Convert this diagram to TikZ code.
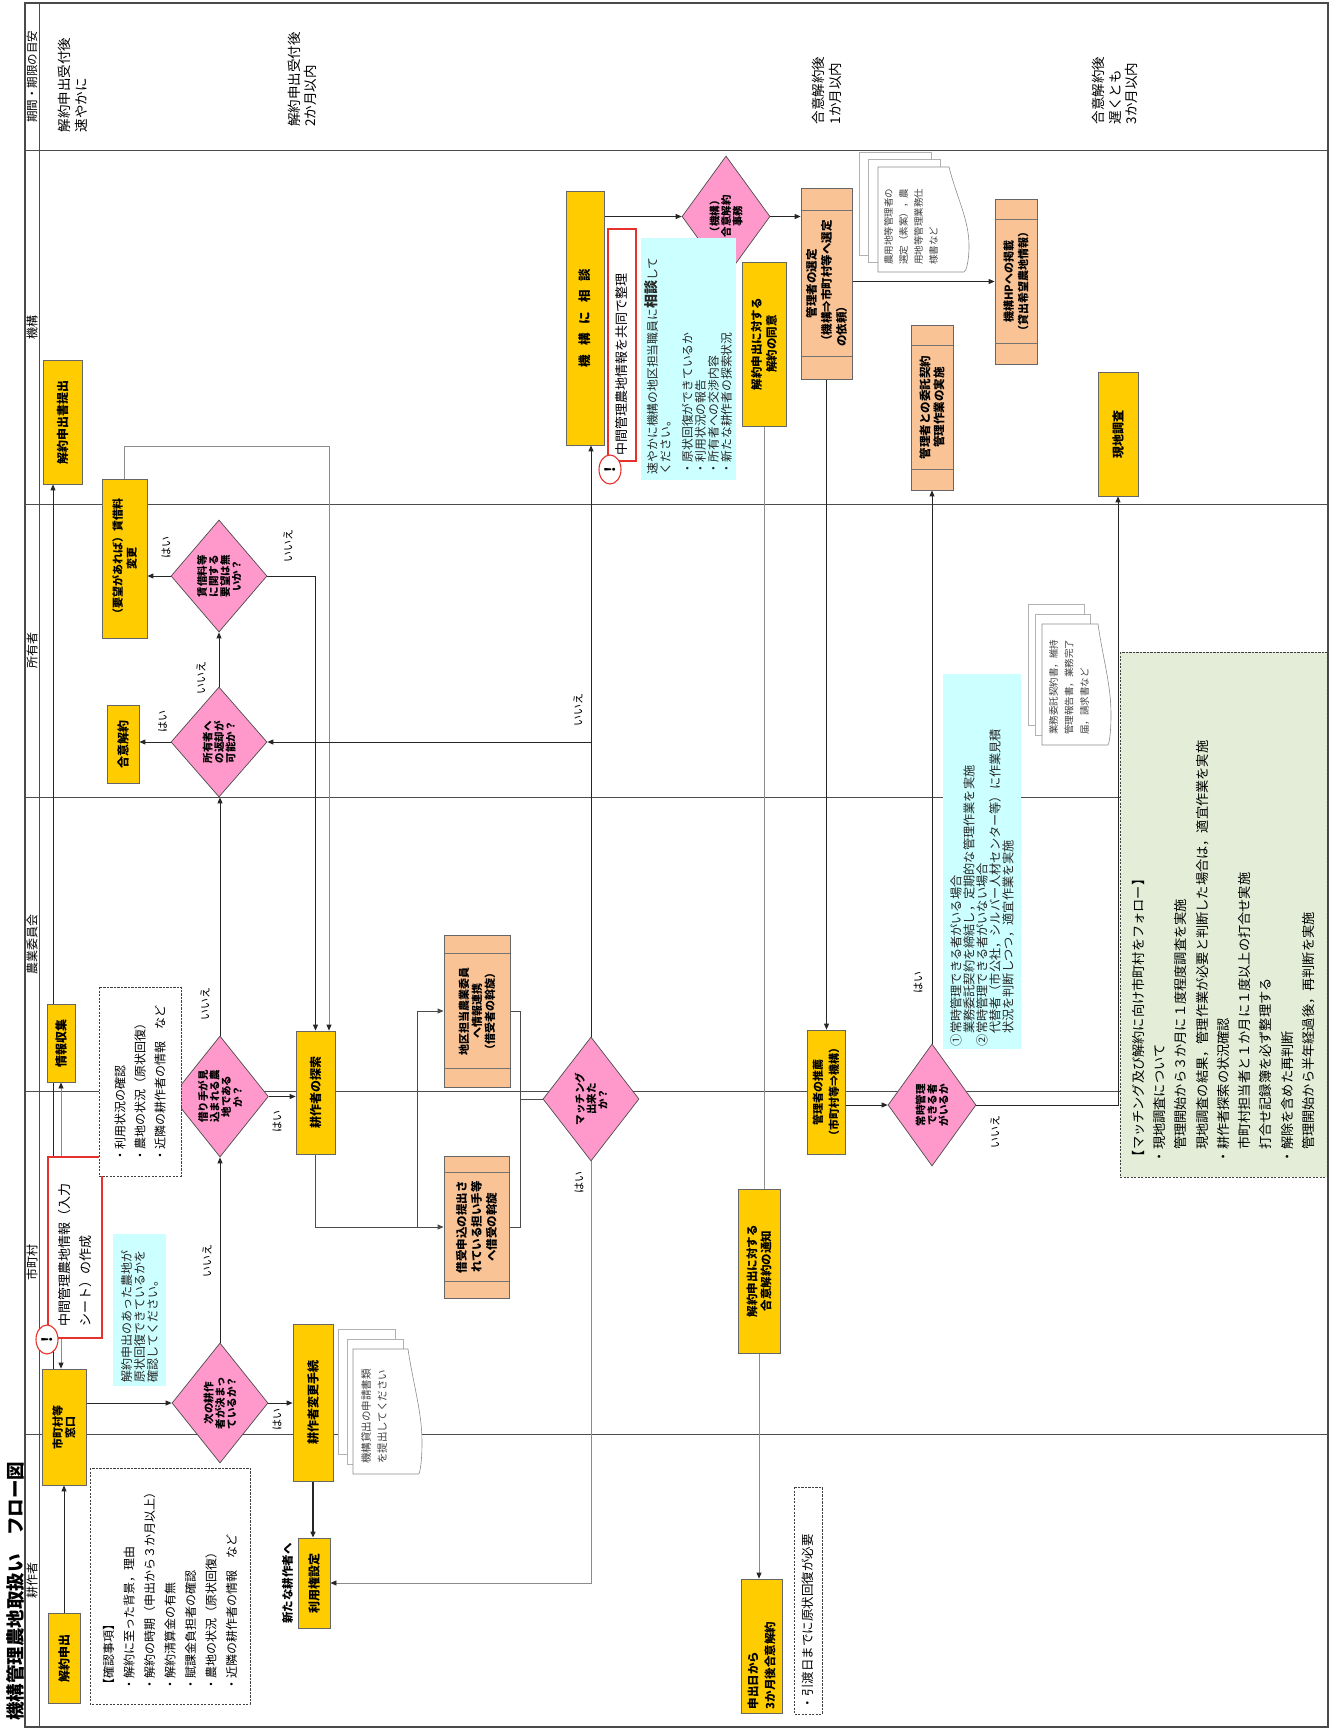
\documentclass[tikz,border=0pt]{standalone}
\usepackage{fontspec}
\setmainfont{Noto Sans CJK JP}
\usetikzlibrary{shapes.geometric,arrows.meta,calc}

\definecolor{yfill}{HTML}{FFCC00}
\definecolor{pfill}{HTML}{F9C396}
\definecolor{dfill}{HTML}{FF99CC}
\definecolor{cfill}{HTML}{CCFFFF}
\definecolor{gfill}{HTML}{E3EDD8}
\definecolor{redl}{HTML}{E5322D}
\definecolor{framec}{HTML}{4A4A4A}

\newcommand\fsz[2]{\fontsize{#1}{#2}\selectfont}
% the two inner rules of a sideways "predefined process" box
\newcommand\pplines[2]{%
  \draw[innerrule] ([yshift=-#2pt]#1.north east) -- ([yshift=-#2pt]#1.south east)
                   ([yshift=#2pt]#1.north west) -- ([yshift=#2pt]#1.south west);}
% a sheet behind a document stack, and the front sheet with its wavy edge
\newcommand\docsheet[4]{\draw[sheetback] (#1,#2) rectangle (#3,#4);}
\newcommand\docfront[5]{%
  \draw[sheetline] (#1,#2) -- (#3,#2)
    .. controls ({#3+0.4*#5},{#2+0.3*(#4-#2)}) and ({#3+#5},{#2+0.5*(#4-#2)}) .. ({#3+#5},{#2+0.75*(#4-#2)})
    .. controls ({#3+#5},{#2+0.9*(#4-#2)}) and ({#3+0.85*#5},{#4}) .. ({#3+0.75*#5},{#4})
    -- (#1,#4) -- cycle;}

\pgfdeclarelayer{bg}
\pgfsetlayers{bg,main}

\tikzset{
  sz/.style 2 args={minimum height=#1pt, minimum width=#2pt},
  ybox/.style={draw=black!60, line width=0.8pt, fill=yfill, rotate=90, inner sep=0pt,
               align=center, font=\bfseries\fsz{12}{14}},
  pbox/.style={ybox, fill=pfill},
  dec/.style={diamond, draw=black!70, line width=0.7pt, fill=dfill, rotate=90,
              inner sep=0pt, align=center, font=\bfseries\fsz{10.5}{11.5}},
  redbox/.style={draw=redl, line width=1.1pt, fill=white, rotate=90, inner sep=0pt, align=left},
  alert/.style={ellipse, draw=redl, line width=1.1pt, fill=white, rotate=90, inner sep=0pt,
                minimum width=29pt, minimum height=22pt, font=\bfseries\fsz{14}{14}},
  cbox/.style={fill=cfill, rotate=90, inner sep=0pt, align=left, text=black!85},
  dashbox/.style={draw=black!75, line width=0.7pt, dash pattern=on 2.2pt off 1.3pt, fill=white,
                  rotate=90, inner sep=0pt, align=left},
  gbox/.style={dashbox, fill=gfill},
  per/.style={rotate=90, inner sep=0pt, align=left, font=\fsz{13.5}{16.5}},
  lanelab/.style={rotate=90, inner sep=0pt, font=\fsz{12}{14}},
  lab/.style={rotate=90, inner sep=0pt, font=\fsz{11}{12}},
  doctext/.style={rotate=90, inner sep=0pt, align=left, anchor=north west, text=black!75},
  innerrule/.style={draw=black!55, line width=0.7pt},
  sheetback/.style={draw=black!30, line width=0.6pt, fill=white},
  sheetline/.style={draw=black!45, line width=0.6pt, fill=white},
  conn/.style={draw=black!85, line width=0.9pt},
  arr/.style={conn, -{Triangle[length=6pt,width=5pt]}},
  soft/.style={draw=black!45, line width=0.8pt},
  softarr/.style={soft, -{Triangle[length=6pt,width=5pt,color=black!85]}},
  lanerule/.style={draw=black!70, line width=1pt},
}

\begin{document}
\begin{tikzpicture}[x=1pt,y=-1pt]
\useasboundingbox (0,0) rectangle (1337,1728);

% ---------- title and lane names ----------
\node[rotate=90, inner sep=0pt, font=\bfseries\fsz{18.5}{20}] (title) at (15,1591) {機構管理農地取扱い　フロー図};
\node[lanelab, font=\fsz{11.5}{14}] (lanePeriod) at (32,77) {期間・期限の目安};
\node[lanelab] (laneKiko)   at (32,327)  {機構};
\node[lanelab] (laneOwner)  at (32,650)  {所有者};
\node[lanelab] (laneIinkai) at (32,944)  {農業委員会};
\node[lanelab] (laneCity)   at (32,1262) {市町村};
\node[lanelab] (laneFarmer) at (32,1580) {耕作者};

% ---------- time limits ----------
\node[per] (per1) at (73,85)      {解約申出受付後\\速やかに};
\node[per] (per2) at (302.5,79.5) {解約申出受付後\\2か月以内};
\node[per] (per3) at (827,90.5)   {合意解約後\\1か月以内};
\node[per] (per4) at (1115,90.5)  {合意解約後\\遅くとも\\3か月以内};

% ---------- process boxes ----------
\node[ybox, sz={32}{90}]  (kaiyaku)   at (64,1658)    {解約申出};
\node[ybox, sz={44}{116}, font=\bfseries\fsz{11}{12.5}] (madoguchi) at (64,1427) {市町村等\\窓口};
\node[ybox, sz={28}{78}]  (joho)      at (61,1043)    {情報収集};
\node[ybox, sz={39}{124}] (teishutsu) at (62.5,422)   {解約申出書提出};
\node[ybox, sz={45}{159}, font=\bfseries\fsz{11}{14}] (chinryo) at (124.5,558.5) {（要望があれば）賃借料\\変更};
\node[ybox, sz={32}{78}]  (goi)       at (123,744)    {合意解約};
\node[ybox, sz={39}{123}] (tansaku)   at (315.5,1092.5) {耕作者の探索};
\node[ybox, sz={40}{157}] (henko)     at (313,1402.5) {耕作者変更手続};
\node[ybox, sz={32}{90}]  (riyo)      at (314,1583)   {利用権設定};
\node[ybox, sz={38}{254}, font=\bfseries\fsz{12.5}{14}] (sodan) at (585,318)
  {機\hspace{9pt}構\hspace{9pt}に\hspace{9pt}相\hspace{9pt}談};
\node[ybox, sz={44}{164}, font=\bfseries\fsz{11.5}{15}] (doi)    at (764,344)  {解約申出に対する\\解約の同意};
\node[ybox, sz={42}{164}, font=\bfseries\fsz{11.5}{14}] (tsuchi) at (759,1271) {解約申出に対する\\合意解約の通知};
\node[ybox, sz={41}{134}, align=left, text width=126pt, font=\bfseries\fsz{11.5}{17}] (sanka) at (761.5,1646)
  {申出日から\\3か月後合意解約};
\node[ybox, sz={38}{124}, font=\bfseries\fsz{11}{16}] (suisen) at (826,1092) {管理者の推薦\\（市町村等⇒機構）};
\node[ybox, sz={40}{124}] (genchi) at (1118,434) {現地調査};

\node[pbox, sz={51}{191}, font=\bfseries\fsz{11.5}{15}] (sentei) at (826.5,283.5)
  {管理者の選定\\（機構⇒市町村等へ選定\\の依頼）\phantom{市町村等へ選定}};
\node[pbox, sz={42}{165}, font=\bfseries\fsz{11}{14.5}] (hp)     at (1016,281.5) {機構HPへの掲載\\（貸出希望農地情報）};
\node[pbox, sz={42}{165}, font=\bfseries\fsz{11.5}{14}] (itaku)  at (932,407.5)  {管理者との委託契約\\管理作業の実施};
\node[pbox, sz={66}{152}, font=\bfseries\fsz{11}{13}]   (chiku)  at (477,1011)   {地区担当農業委員\\へ情報連携\\（借受者の斡旋）};
\node[pbox, sz={65}{142}, font=\bfseries\fsz{11.5}{15}] (kariuke) at (476.5,1227) {借受申込の提出さ\\れている担い手等\\へ借受の斡旋};
\pplines{sentei}{23}
\pplines{hp}{21}
\pplines{itaku}{21}
\pplines{chiku}{19}
\pplines{kariuke}{17}

% ---------- decisions ----------
\node[dec, sz={96}{120}] (dtsugi)    at (220,1403)   {次の耕作\\者が決まっ\\ているか？};
\node[dec, sz={96}{121}] (dkarite)   at (220,1096.5) {借り手が見\\込まれる農\\地である\\か？};
\node[dec, sz={96}{110}] (dhenkyaku) at (219,742)    {所有者へ\\の返却が\\可能か？};
\node[dec, sz={96}{112}] (dyobo)     at (219,576)    {賃借料等\\に関する\\要望は無\\いか？};
\node[dec, sz={96}{124}] (dmatch)    at (591,1099)   {マッチング\\出来た\\か？};
\node[dec, sz={88}{121}] (djimu)     at (726,216.5)  {（機構）\\合意解約\\事務};
\node[dec, sz={88}{122}] (djoji)     at (932,1105)   {常時管理\\できる者\\がいるか};

% ---------- notes ----------
\node[redbox, sz={28}{232}, text width=220pt, font=\fsz{13}{14}] (memo1) at (622,345) {中間管理農地情報を共同で整理};
\node[redbox, sz={54}{181}, text width=157pt, font=\fsz{13}{21}] (memo2) at (75,1247.5) {中間管理農地情報（入力\\シート）の作成};
\node[alert] (bang1) at (610,469.5) {!};
\node[alert] (bang2) at (47,1339.5) {!};

\node[cbox, sz={95}{242}, text width=230pt, font=\fsz{11.8}{13}] (memo3) at (688.5,359)
  {速やかに機構の地区担当職員に{\bfseries\fsz{14}{13}相談}して\\ください。\\[9pt]・原状回復ができているか\\・利用状況の報告\\・所有者への交渉内容\\・新たな耕作者の探索状況};
\node[cbox, sz={78}{375}, text width=369pt, font=\fsz{12.2}{13}] (memo4) at (982,861.5)
  {①常時管理できる者がいる場合\\\hspace*{1em}業務委託契約を締結し，定期的な管理作業を実施\\②常時管理できる者がいない場合\\\hspace*{1em}代替者（市公社，シルバー人材センター等）に作業見積\\\hspace*{1em}状況を判断しつつ，適宜作業を実施};
\node[cbox, sz={53}{152}, text width=144pt, font=\fsz{12}{13}] (memo5) at (139.5,1310)
  {解約申出のあった農地が\\原状回復できているかを\\確認してください。};

\node[dashbox, sz={82}{189}, text width=160pt, font=\fsz{12}{20}] (chk1) at (140,1081.5)
  {・利用状況の確認\\・農地の状況（原状回復）\\・近隣の耕作者の情報　など};
\node[dashbox, sz={160}{236}, text width=208pt, font=\fsz{12}{20.5}] (chk2) at (170,1586)
  {【確認事項】\\・解約に至った背景，理由\\・解約の時期（申出から３か月以上）\\・解約清算金の有無\\・賦課金負担者の確認\\・農地の状況（原状回復）\\・近隣の耕作者の情報　など};
\node[dashbox, sz={28}{227}, text width=217pt, font=\fsz{12.5}{14}] (chk3) at (808,1600.5)
  {・引渡日までに原状回復が必要};
\node[gbox, sz={207}{525}, text width=497pt, font=\fsz{13.2}{21.3}] (follow) at (1223.5,914.5)
  {【マッチング及び解約に向け市町村をフォロー】\\・現地調査について\\\hspace*{1em}管理開始から３か月に１度程度調査を実施\\\hspace*{1em}現地調査の結果，管理作業が必要と判断した場合は，適宜作業を実施\\・耕作者探索の状況確認\\\hspace*{1em}市町村担当者と１か月に１度以上の打合せ実施\\\hspace*{1em}打合せ記録簿を必ず整理する\\・解除を含めた再判断\\\hspace*{1em}管理開始から半年経過後，再判断を実施};

% ---------- document stacks ----------
\docsheet{859}{152}{931}{255}
\docsheet{868}{159}{940}{262}
\docfront{878}{167}{949}{272}{20}
\node[doctext, font=\fsz{9.5}{15}] (docA) at (884,265) {農用地等管理者の\\選定（素案），農\\用地等管理業務仕\\様書など};
\docsheet{1028}{604}{1084}{725}
\docsheet{1035}{614}{1090}{735}
\docfront{1042}{624}{1098}{745}{13}
\node[doctext, font=\fsz{9.5}{15.5}] (docB) at (1049,735) {業務委託契約書，維持\\管理報告書，業務完了\\届，請求書など};
\docsheet{338}{1329}{395}{1454}
\docsheet{347}{1339}{403}{1464}
\docfront{353}{1349}{408}{1474}{14}
\node[doctext, font=\fsz{10.5}{16}] (docC) at (361,1464) {機構貸出の申請書類\\を提出してください};

% ---------- branch labels ----------
\node[lab] (l1)  at (207,1260.5) {いいえ};
\node[lab] (l2)  at (277,1419)   {はい};
\node[lab] (l3)  at (277,1121.5) {はい};
\node[lab] (l4)  at (205,1004)   {いいえ};
\node[lab] (l5)  at (201,678)    {いいえ};
\node[lab] (l6)  at (162.5,721)  {はい};
\node[lab] (l7)  at (166,547)    {はい};
\node[lab] (l8)  at (288,546)    {いいえ};
\node[lab] (l9)  at (578,710)    {いいえ};
\node[lab] (l10) at (579,1182)   {はい};
\node[lab] (l11) at (918,982)    {はい};
\node[lab] (l12) at (995,1132)   {いいえ};
\node[lab, font=\bfseries\fsz{11.5}{12}] (newfarmer) at (287.5,1583.5) {新たな耕作者へ};

% ---------- frame, lanes and connectors (behind the boxes) ----------
\begin{pgfonlayer}{bg}
  \draw[draw=framec, line width=1.4pt] (25,3) rectangle (1328,1727);
  \draw[lanerule] (39,3) -- (39,1727);
  \foreach \ly in {151,504,797,1091,1434} \draw[lanerule] (25,\ly) -- (1328,\ly);

  \draw[arr] (kaiyaku.east) -- (madoguchi.west);
  \draw[arr] ([xshift=-11pt]madoguchi.east) -- ([xshift=-11pt]madoguchi.east |- teishutsu.west);
  \draw[soft, {Triangle[length=6pt,width=5pt,color=black!85]}-{Triangle[length=6pt,width=5pt,color=black!85]}]
        (joho.west) -- (joho.west |- madoguchi.east);
  \draw[arr] (madoguchi.south |- dtsugi.north) -- (dtsugi.north);
  \draw[arr] (dtsugi.east) -- (dkarite.west);
  \draw[arr] (dtsugi.south) -- (dtsugi.south -| henko.north);
  \draw[arr, line width=1.3pt] (henko.west) -- (henko.west |- riyo.east);
  \draw[softarr] (dmatch.west) |- (riyo.south);
  \draw[arr] (dkarite.east) -- (dkarite.east |- dhenkyaku.west);
  \draw[arr] (dkarite.south) -- (dkarite.south -| tansaku.north);
  \draw[arr] (dhenkyaku.east) -- (dyobo.west);
  \draw[arr] (dhenkyaku.north) -- (dhenkyaku.north -| goi.south);
  \draw[arr] (dyobo.north) -- (dyobo.north -| chinryo.south);
  \draw[arr] (dyobo.south) -| (tansaku.east);
  \draw[softarr] (chinryo.east) -- ++(0,-32) -| ([xshift=13.5pt]tansaku.east);

  \coordinate (split) at (tansaku.west |- kariuke.north);
  \draw[arr, draw=black!70] (tansaku.west) |- (kariuke.north);
  \draw[arr, draw=black!70] ([xshift=102pt]split) |- (chiku.north);
  \coordinate (join) at ($(chiku.south)+(10,0)$);
  \draw[conn, draw=black!70] (chiku.south) -- (join) -- (join |- kariuke.south) -- (kariuke.south);
  \draw[conn, draw=black!70] (join |- dmatch.north) -- (dmatch.north);

  \draw[arr] (dmatch.east) -- (dmatch.east |- sodan.west);
  \draw[arr] (dmatch.east |- dhenkyaku.south) -- (dhenkyaku.south);

  \draw[arr] (sodan.south |- djimu.north) -- (djimu.north);
  \draw[arr] (djimu.south) -- (djimu.south -| sentei.north);
  \draw[arr] (sentei.south |- hp.north) -- (hp.north);
  \draw[arr] (sentei.west) -- (sentei.west |- suisen.east);
  \draw[arr] (suisen.south |- djoji.north) -- (djoji.north);
  \draw[arr] (djoji.east) -- (djoji.east |- itaku.west);
  \draw[arr] (djoji.south) -| (genchi.west);
  \draw[soft] (doi.west) -- (doi.west |- tsuchi.east);
  \draw[softarr] (tsuchi.west) -- (tsuchi.west |- sanka.east);
\end{pgfonlayer}
\end{tikzpicture}
\end{document}
